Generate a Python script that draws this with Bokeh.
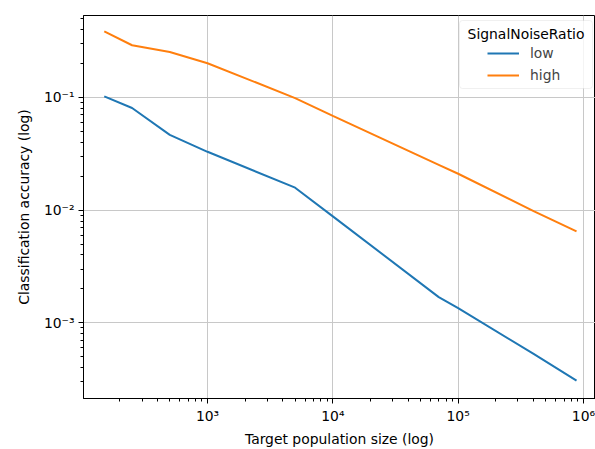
from bokeh.plotting import figure
from bokeh.models import (Legend, LegendItem, Label, BoxAnnotation, FixedTicker,
                          CustomJSTickFormatter, Range1d)
from bokeh.embed import file_html
from bokeh.resources import INLINE

# ---- data ----
pop_size = [150, 250, 500, 1000, 5000, 10000, 70000, 100000, 400000, 880000]
acc_low = [0.102, 0.0805, 0.0465, 0.0329, 0.0158, 0.0088, 0.00169, 0.00135, 0.00053, 0.000307]
acc_high = [0.385, 0.290, 0.253, 0.201, 0.0986, 0.0684, 0.0252, 0.0210, 0.0098, 0.00647]
series_names = ["low", "high"]
legend_title = "SignalNoiseRatio"
x_major = [1e3, 1e4, 1e5, 1e6]
y_major = [1e-3, 1e-2, 1e-1]

FONT = "DejaVu Sans"
FS = "13.9px"
BLUE = "#1f77b4"
ORANGE = "#ff7f0e"

p = figure(width=595, height=449, x_axis_type="log", y_axis_type="log",
           x_range=Range1d(102.4, 1.247e6), y_range=Range1d(2.13e-4, 0.5326),
           output_backend="svg", toolbar_location=None,
           min_border_left=83, min_border_right=0, min_border_top=15, min_border_bottom=49)

p.outline_line_color = "black"
p.outline_line_width = 1
p.background_fill_color = "white"
p.border_fill_color = "white"

def minors(majors):
    lo = majors[0] / 10
    out = []
    d = lo
    while d <= majors[-1]:
        out += [d * k for k in range(2, 10)]
        d *= 10
    return out

fmt = CustomJSTickFormatter(code="""
const e = Math.round(Math.log10(tick));
const sup = {'-':'\u207b','0':'\u2070','1':'\u00b9','2':'\u00b2','3':'\u00b3','4':'\u2074','5':'\u2075','6':'\u2076','7':'\u2077','8':'\u2078','9':'\u2079'};
return '10' + String(e).split('').map(c => sup[c]).join('');
""")

xt = FixedTicker(ticks=x_major, minor_ticks=minors(x_major))
yt = FixedTicker(ticks=y_major, minor_ticks=minors(y_major))
p.xaxis.ticker = xt
p.yaxis.ticker = yt
p.xgrid.ticker = xt
p.ygrid.ticker = yt
p.xaxis.formatter = fmt
p.yaxis.formatter = fmt

for ax in (p.xaxis, p.yaxis):
    ax.axis_line_color = "black"
    ax.major_tick_line_color = "black"
    ax.minor_tick_line_color = "black"
    ax.major_tick_out = 5
    ax.major_tick_in = 0
    ax.minor_tick_out = 3
    ax.minor_tick_in = 0
    ax.major_label_text_font = FONT
    ax.major_label_text_font_size = FS
    ax.major_label_text_color = "black"
    ax.axis_label_text_font = FONT
    ax.axis_label_text_font_size = FS
    ax.axis_label_text_font_style = "normal"
    ax.axis_label_text_color = "black"
    ax.major_label_standoff = 4

p.xaxis.axis_label = "Target population size (log)"
p.yaxis.axis_label = "Classification accuracy (log)"
p.xaxis.axis_label_standoff = 4
p.yaxis.axis_label_standoff = 9

p.grid.grid_line_color = "#c8c8c8"
p.grid.grid_line_width = 1

r_low = p.line(pop_size, acc_low, line_color=BLUE, line_width=2)
r_high = p.line(pop_size, acc_high, line_color=ORANGE, line_width=2)

# legend frame + title + items (matplotlib-like layout)
box = BoxAnnotation(left=376, right=509, top=378, bottom=310,
                    left_units="screen", right_units="screen",
                    top_units="screen", bottom_units="screen",
                    fill_color="white", fill_alpha=0.8,
                    line_color="#cccccc", line_width=1, border_radius=3)
p.add_layout(box)

title = Label(x=442.5, y=365, x_units="screen", y_units="screen", text=legend_title,
              text_font=FONT, text_font_size=FS, text_align="center",
              text_baseline="middle", text_color="black")
p.add_layout(title)

legend = Legend(items=[LegendItem(label=series_names[0], renderers=[r_low]),
                       LegendItem(label=series_names[1], renderers=[r_high])],
                location=(404, 315), orientation="vertical",
                border_line_color=None, background_fill_alpha=0,
                padding=0, margin=0, spacing=6,
                glyph_width=32, glyph_height=16, label_height=16,
                label_standoff=11, label_text_font=FONT, label_text_font_size=FS,
                label_text_baseline="middle")
p.add_layout(legend)

open("out.html", "w", encoding="utf-8").write(file_html(p, INLINE))
